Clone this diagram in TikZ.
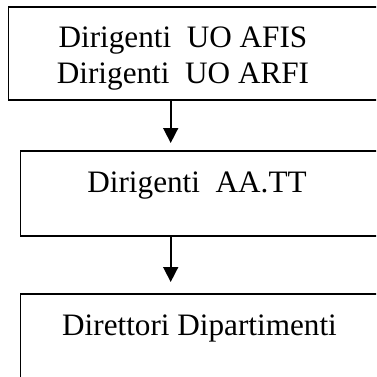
\documentclass[tikz,border=0pt]{standalone}
\usepackage{fontspec}
\setmainfont{Liberation Serif}
\usetikzlibrary{arrows.meta}

\tikzset{
  box/.style={draw, line width=1.6pt, rectangle, inner sep=0pt, anchor=north west},
  lbl/.style={font=\fontsize{31.2}{36}\selectfont, align=center, anchor=base, inner sep=0pt},
  flow/.style={line width=1.6pt, -{Triangle[width=15pt,length=15pt]}},
}

\begin{document}
\begin{tikzpicture}[x=1pt,y=-1pt]
  \useasboundingbox (0,0) rectangle (376,377);
  \clip (0,0) rectangle (376,377);

  % boxes (cut off on the right)
  \node[box, minimum width=450pt, minimum height=93pt] (afis) at (7.5,6) {};
  \node[box, minimum width=450pt, minimum height=85pt] (aatt) at (19.5,150) {};
  \node[box, minimum width=450pt, minimum height=120pt] (dip) at (19.5,293) {};

  \node[lbl] (tafis) at (183,83.5) {Dirigenti~~UO AFIS\\Dirigenti~~UO ARFI};
  \node[lbl] (taatt) at (197,192) {Dirigenti~~AA.TT};
  \node[lbl] (tdip)  at (199.5,335) {Direttori Dipartimenti};

  % arrows
  \coordinate (ax) at (170.7,0);
  \draw[flow, shorten >=7pt]  (afis.south -| ax) -- (aatt.north -| ax);
  \draw[flow, shorten >=11pt] (aatt.south -| ax) -- (dip.north -| ax);
\end{tikzpicture}
\end{document}
